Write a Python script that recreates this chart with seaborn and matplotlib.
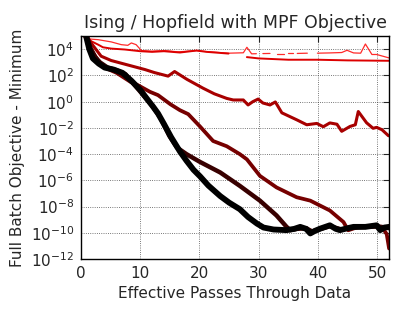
import numpy as np
import pandas as pd
import matplotlib
matplotlib.use("Agg")
import matplotlib.pyplot as plt
import seaborn as sns
from matplotlib.ticker import LogFormatterMathtext, NullLocator

# Values (y stored as log10 of the objective)
l1_x = [0.5, 0.9, 2.9, 5.1, 6.8, 7.9, 8.5, 9.3, 10.2, 11.9, 14.1, 16.4, 19.5, 21.2, 24.9, 27.4, 28.0, 28.8, 29.6,
        np.nan, 30.7, 31.9, np.nan, 33.1, 34.2, np.nan, 35.0, 35.7, np.nan, 36.5, 38.2, np.nan,
        39.9, 42.0, 44.0, 44.9, 46.0, 47.2, 48.0, 49.1, 49.9, 51.9, 52.0]
l1_y = [4.9, 4.8, 4.73, 4.56, 4.35, 4.3, 4.48, 4.35, 3.9, 3.85, 3.9, 3.8, 3.9, 3.82, 3.7, 3.73, 4.15, 3.65, 3.66,
        np.nan, 3.67, 3.68, np.nan, 3.67, 3.67, np.nan, 3.68, 3.68, np.nan, 3.68, 3.7, np.nan,
        3.7, 3.72, 3.75, 3.92, 3.72, 3.7, 4.4, 3.6, 3.6, 3.35, 3.34]

l2_x = [0.7, 1.2, 2.9, 3.7, 5.1, 7.4, 10.0, 12.0, 14.0, 16.7, 19.5, 21.2, 24.9, np.nan,
        28.0, 30.0, 35.0, 40.0, 45.0, 52.0]
l2_y = [5.0, 4.73, 4.35, 4.15, 4.05, 3.98, 3.85, 3.8, 3.85, 3.75, 3.9, 3.8, 3.67, np.nan,
        3.4, 3.3, 3.2, 3.2, 3.15, 3.12]

l3_x = [0.9, 1.7, 3.4, 5.1, 7.9, 10.8, 12.4, 14.7, 15.8, 17.9, 20.6, 22.5, 24.6, 25.7, 27.4, 28.2, 29.0,
        29.9, 30.7, 31.9, 32.8, 33.9, 36.4, 38.1, 39.8, 40.9, 42.0, 43.2, 44.0, 45.4, 46.3, 46.8,
        48.2, 49.3, 49.9, 50.8, 51.9]
l3_y = [5.1, 4.48, 3.47, 3.14, 2.8, 2.45, 2.22, 1.95, 2.3, 1.7, 1.03, 0.6, 0.25, 0.13, 0.13, -0.25, 0.0,
        0.2, -0.1, -0.25, -0.02, -0.85, -1.38, -1.76, -1.66, -1.91, -1.62, -1.72, -2.26, -1.89, -1.76, -0.75,
        -1.61, -2.03, -1.96, -2.14, -2.6]

l4_x = [0.9, 1.6, 2.9, 4.0, 6.0, 8.4, 9.6, 11.65, 13.0, 15.1, 16.7, 18.1, 20.1, 22.3, 24.6, 26.8, 28.0,
        30.2, 33.0, 36.4, 38.7, 42.0, 44.3, 45.1, 46.5, 48.0, 50.0, 51.0, 51.6, 52.0]
l4_y = [5.1, 4.0, 3.15, 2.6, 2.2, 1.5, 1.26, 0.75, 0.5, -0.2, -0.65, -0.95, -1.9, -3.0, -3.4, -4.0, -4.4,
        -5.66, -6.54, -7.29, -7.55, -8.3, -9.18, -9.81, -9.6, -9.5, -9.55, -9.7, -10.1, -11.2]

l5_x = [0.9, 1.6, 2.4, 3.2, 4.5, 6.0, 7.5, 9.0, 10.5, 12.0, 13.5, 14.9, 16.2, 17.8, 20.1, 23.5, 26.8,
        30.2, 33.0, 34.7, 35.3, 36.5, 38.0, 39.0, 40.5, 42.0, 44.0, 46.0, 48.0, 50.0, 52.0]
l5_y = [5.1, 4.1, 3.4, 3.0, 2.6, 2.4, 2.1, 1.3, 0.5, -0.3, -1.3, -2.6, -3.5, -4.0, -4.6, -5.4, -6.42,
        -7.55, -8.68, -9.55, -9.8, -9.7, -9.65, -9.9, -9.7, -9.5, -9.75, -9.6, -9.55, -9.5, -9.65]

l6_x = [0.8, 1.4, 2.0, 3.0, 4.0, 5.5, 7.0, 8.5, 10.0, 11.0, 12.2, 13.0, 14.0, 15.2, 16.7, 17.8, 19.0,
        20.1, 21.5, 23.5, 25.0, 26.8, 28.2, 29.7, 30.8, 32.5, 34.7, 36.0, 37.0, 38.0, 38.7, 39.5, 40.4,
        42.0, 43.0, 43.7, 45.0, 46.0, 48.0, 49.9, 50.5, 51.2, 52.0]
l6_y = [5.1, 4.0, 3.3, 2.9, 2.6, 2.45, 2.2, 1.6, 0.9, 0.3, -0.4, -0.9, -1.7, -2.7, -3.8, -4.5, -5.2,
        -5.7, -6.4, -7.2, -7.7, -8.2, -8.8, -9.3, -9.6, -9.75, -9.8, -9.7, -9.55, -9.7, -10.05, -9.85, -9.68,
        -9.43, -9.7, -9.8, -9.65, -9.55, -9.55, -9.43, -9.8, -9.6, -9.55]

series = [
    (l1_x, l1_y, "#ff2a2a", 0.9),
    (l2_x, l2_y, "#dd0000", 1.4),
    (l3_x, l3_y, "#a80000", 2.2),
    (l4_x, l4_y, "#760000", 2.7),
    (l5_x, l5_y, "#380000", 3.2),
    (l6_x, l6_y, "#000000", 4.2),
]

x_ticks = [0, 10, 20, 30, 40, 50]
y_tick_exps = [-12, -10, -8, -6, -4, -2, 0, 2, 4]

sns.set_style("white")
plt.rcParams["font.family"] = ["DejaVu Sans"]
plt.rcParams["mathtext.fontset"] = "dejavusans"

fig = plt.figure(figsize=(4.07, 3.17), dpi=100)
ax = fig.add_axes([0.199, 0.183, 0.757, 0.703])

for xs, ys, color, lw in series:
    df = pd.DataFrame({"x": xs, "y": 10.0 ** np.array(ys, dtype=float)})
    # split on gaps so missing values show as breaks in the line
    seg_id = df["x"].isna().cumsum()
    for _, seg in df.dropna().groupby(seg_id[df["x"].notna()]):
        sns.lineplot(data=seg, x="x", y="y", ax=ax, color=color, linewidth=lw,
                     estimator=None, sort=False, solid_joinstyle="round")

ax.set_yscale("log")
ax.set_xlim(0, 52)
ax.set_ylim(1e-12, 1e5)
ax.set_xticks(x_ticks)
ax.set_yticks([10.0 ** e for e in y_tick_exps])
ax.yaxis.set_major_formatter(LogFormatterMathtext())
ax.yaxis.set_minor_locator(NullLocator())
ax.grid(True, color="black", linestyle=":", linewidth=0.6, alpha=0.7)
ax.tick_params(direction="in", top=True, right=True, labelsize=11, length=4, width=0.8, pad=5)
for sp in ax.spines.values():
    sp.set_color("black")
    sp.set_linewidth(1.0)

ax.set_title("Ising / Hopfield with MPF Objective", fontsize=12.5)
ax.set_xlabel("Effective Passes Through Data", fontsize=11)
ax.set_ylabel("Full Batch Objective - Minimum", fontsize=11)

fig.savefig("out.png", dpi=100)
